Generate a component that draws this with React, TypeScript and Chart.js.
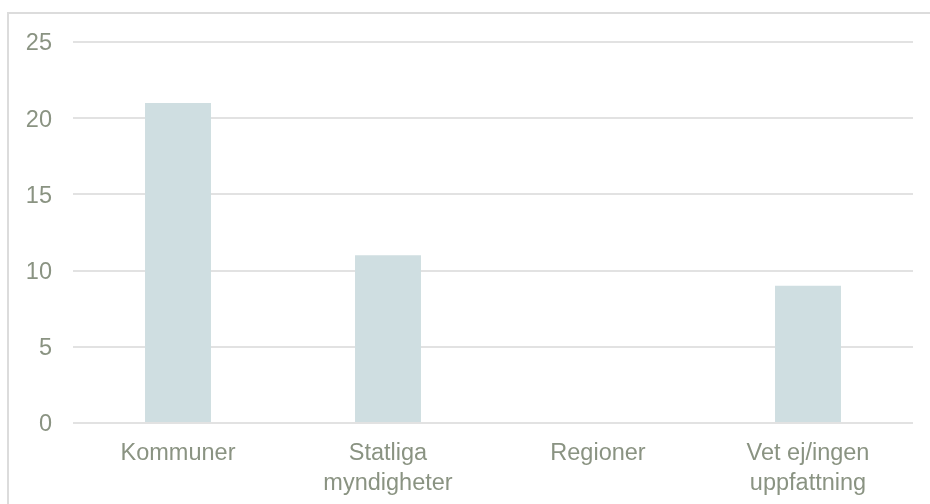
import React, { useEffect, useRef } from "react";
import { Chart, registerables } from "chart.js";

Chart.register(...registerables);

const categories: (string | string[])[] = [
  "Kommuner",
  ["Statliga", "myndigheter"],
  "Regioner",
  ["Vet ej/ingen", "uppfattning"],
];
const values: number[] = [21, 11, 0, 9];
const yTicks: number[] = [0, 5, 10, 15, 20, 25];

const TEXT = "#8a9382";
const BAR = "#cfdee1";
const GRID = "#e2e2e2";
const FONT = "'Liberation Sans', Arial, sans-serif";

export default function App() {
  const ref = useRef<HTMLCanvasElement | null>(null);

  useEffect(() => {
    document.body.style.margin = "0";
    const canvas = ref.current;
    if (!canvas) return;
    const chart = new Chart(canvas, {
      type: "bar",
      data: {
        labels: categories,
        datasets: [
          {
            data: values,
            backgroundColor: BAR,
            borderWidth: 0,
            categoryPercentage: 1,
            barPercentage: 0.314,
          },
        ],
      },
      options: {
        animation: false,
        responsive: false,
        maintainAspectRatio: false,
        layout: { padding: { top: 42, right: 17, left: 0, bottom: 0 } },
        plugins: {
          legend: { display: false },
          tooltip: { enabled: false },
        },
        scales: {
          x: {
            grid: { display: false, drawTicks: false },
            border: { display: false },
            ticks: {
              color: TEXT,
              font: { family: FONT, size: 23.5, lineHeight: 1.277 },
              padding: 16,
              maxRotation: 0,
              autoSkip: false,
            },
            afterFit: (s: any) => {
              s.height = 81;
            },
          },
          y: {
            min: 0,
            max: 25,
            afterBuildTicks: (s: any) => {
              s.ticks = yTicks.map((v) => ({ value: v }));
            },
            grid: { color: GRID, lineWidth: 2, drawTicks: false },
            border: { display: false },
            ticks: {
              color: TEXT,
              font: { family: FONT, size: 23.5 },
              padding: 21,
              labelOffset: 2,
            },
            afterFit: (s: any) => {
              s.width = 73;
            },
          },
        },
      },
    });
    return () => chart.destroy();
  }, []);

  return (
    <div style={{ position: "relative", width: 930, height: 504, overflow: "hidden", background: "#fff" }}>
      <div
        style={{
          position: "absolute",
          left: 7,
          top: 12,
          width: 1000,
          height: 600,
          border: "2px solid #dcdcdc",
          boxSizing: "border-box",
        }}
      />
      <canvas ref={ref} width={930} height={504} style={{ position: "absolute", left: 0, top: 0, display: "block" }} />
    </div>
  );
}
